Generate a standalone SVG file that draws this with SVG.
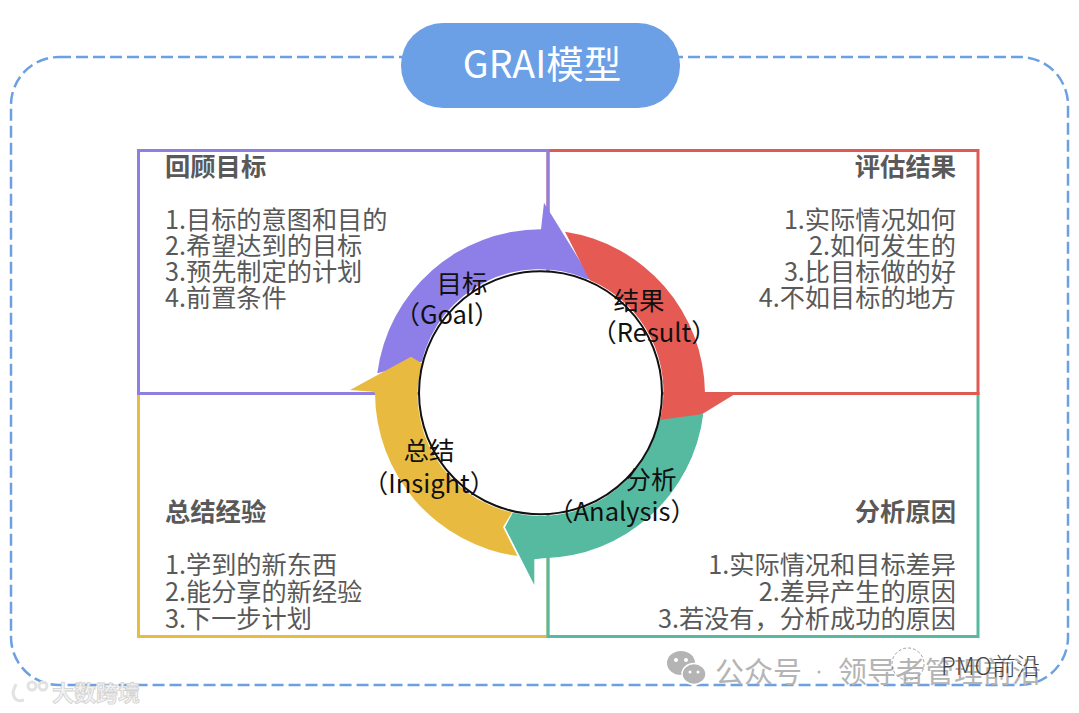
<svg xmlns="http://www.w3.org/2000/svg" width="1079" height="713" viewBox="0 0 1079 713">
<style>
text{font-family:"Noto Sans CJK SC","Noto Sans",sans-serif}
.h{font-size:25.300px;font-weight:700;fill:#595959}
.b{font-size:25.200px;fill:#595959}
.e{text-anchor:end}
.c{font-size:25.500px;fill:#111;text-anchor:middle}
.box{fill:none;stroke-width:3}
.w{fill:#b4b4b4;font-size:29px}
</style>
<rect width="1079" height="713" fill="#fff"/>
<rect id="frame" x="11" y="57" width="1057" height="628" rx="48" fill="none" stroke="#6ca0e3" stroke-width="2.500" stroke-dasharray="12 5"/>
<g id="title"><rect x="401" y="23" width="279" height="85" rx="42" fill="#6ca0e6"/><text x="542" y="78" font-size="37.500" fill="#fff" text-anchor="middle">GRAI模型</text></g>
<g id="insight-box"><rect class="box" x="138.500" y="393.500" width="409.500" height="243" stroke="#e8bb45"/>
<text class="h" x="165" y="521">总结经验</text>
<text class="b" x="165" y="574">1.学到的新东西</text><text class="b" x="165" y="601">2.能分享的新经验</text><text class="b" x="165" y="628">3.下一步计划</text></g>
<g id="analysis-box"><rect class="box" x="548" y="393.500" width="430" height="243" stroke="#55ba9f"/>
<text class="h e" x="956" y="521">分析原因</text>
<text class="b e" x="956" y="574">1.实际情况和目标差异</text><text class="b e" x="956" y="601">2.差异产生的原因</text><text class="b e" x="956" y="628">3.若没有，分析成功的原因</text></g>
<g id="result-box"><rect class="box" x="548" y="150.500" width="430" height="243" stroke="#e05a54"/>
<text class="h e" x="956" y="176">评估结果</text>
<text class="b e" x="956" y="229">1.实际情况如何</text><text class="b e" x="956" y="255">2.如何发生的</text><text class="b e" x="956" y="281">3.比目标做的好</text><text class="b e" x="956" y="307">4.不如目标的地方</text></g>
<g id="goal-box"><rect class="box" x="138.500" y="150.500" width="409.500" height="243" stroke="#8e7fe0"/>
<text class="h" x="165" y="176">回顾目标</text>
<text class="b" x="165" y="229">1.目标的意图和目的</text><text class="b" x="165" y="255">2.希望达到的目标</text><text class="b" x="165" y="281">3.预先制定的计划</text><text class="b" x="165" y="307">4.前置条件</text></g>
<g id="connectors">
<path d="M377.300 373.300A165 165 0 0 1 541 229.300L544 202.700L591 279L587 279A121 121 0 0 0 421.700 361.700Z" fill="#8e7fe8"/>
<path d="M565 231.700A165 165 0 0 1 705 392.700L735 394L673.300 431.700L660 420A121 121 0 0 0 589.500 280Z" fill="#e55b54"/>
<path d="M703.300 414A165 165 0 0 1 543.300 558.300L534.300 559.300L534.300 585L505 527.300L512.700 512.700A121 121 0 0 0 659 420Z" fill="#55ba9f"/>
<path d="M517.500 556A165 165 0 0 1 375 393L373.300 391.700L350 390L411 356.700L421.700 363.300A121 121 0 0 0 512 512.500L503 527Z" fill="#e8bb40"/>
</g>
<g id="hub"><circle cx="540.500" cy="392.800" r="121.500" fill="#fff" stroke="#111" stroke-width="2"/></g>
<g id="goal-label"><text class="c" x="462" y="293">目标</text><text class="c" x="447" y="324">（Goal）</text></g>
<g id="result-label"><text class="c" x="639" y="310">结果</text><text class="c" x="654" y="342">（Result）</text></g>
<g id="analysis-label"><text class="c" x="651" y="489">分析</text><text class="c" x="622" y="521">（Analysis）</text></g>
<g id="insight-label"><text class="c" x="429" y="460">总结</text><text class="c" x="429" y="493">（Insight）</text></g>
<g id="watermarks">
<g fill="#b4b4b4"><ellipse cx="681" cy="663" rx="14" ry="12"/><ellipse cx="694" cy="674" rx="12" ry="10.500" stroke="#fff" stroke-width="1.500"/></g>
<g fill="#fff"><circle cx="676" cy="660" r="2"/><circle cx="686" cy="660" r="2"/><circle cx="690" cy="672" r="1.500"/><circle cx="698" cy="672" r="1.500"/></g>
<text class="w" x="715" y="683">公众号</text><circle cx="819" cy="672" r="1.500" fill="#b4b4b4"/><text class="w" x="838" y="683">领导者管理前沿</text>
<circle cx="908" cy="664" r="16" fill="none" stroke="#777" stroke-width=".7" stroke-dasharray="3 2"/>
<text x="941" y="675" font-size="24" font-weight="300" fill="#444">PMO前沿</text>
<g fill="none" stroke="#e2e2e2" stroke-width="3"><path d="M16 684L13 692Q14 703 24 700"/><circle cx="32" cy="686" r="4"/><circle cx="43" cy="686" r="4"/></g>
<text x="52" y="701" font-size="22" font-weight="700" fill="#f2f2f2" stroke="#d2d2d2" stroke-width=".8">大数跨境</text>
</g>
</svg>
